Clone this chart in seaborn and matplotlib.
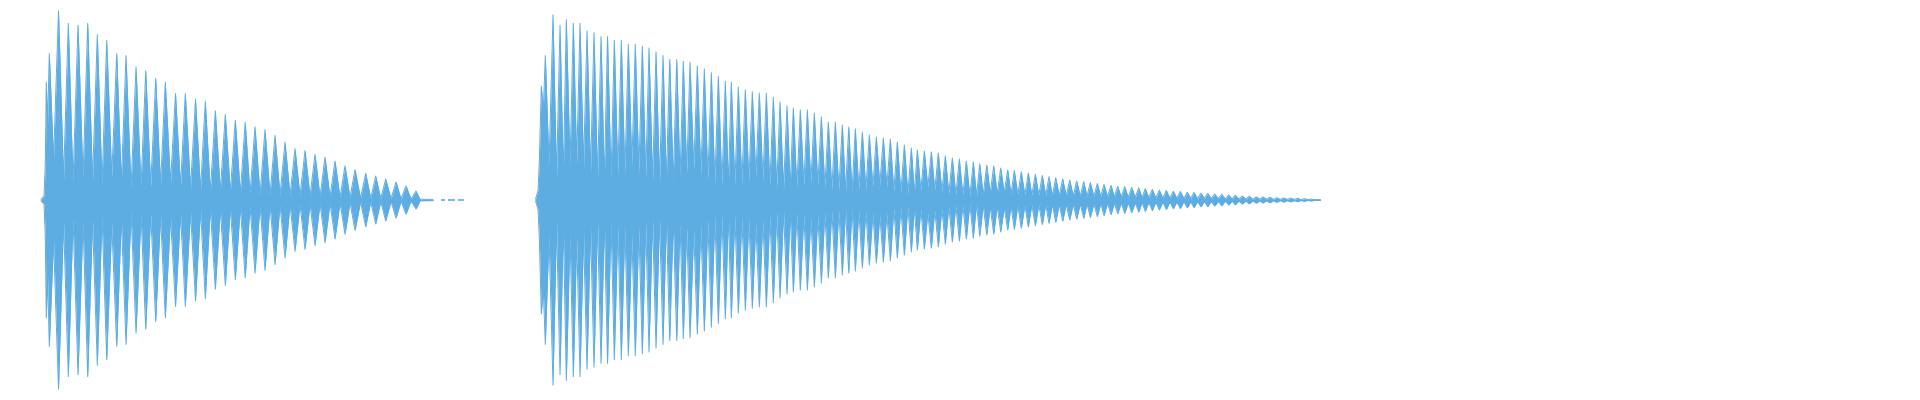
import numpy as np
import pandas as pd
import matplotlib
matplotlib.use("Agg")
import matplotlib.pyplot as plt
import seaborn as sns

WAVE_COLOR = "#5DADE2"

# burst 1: envelope vertices (time in ms, peak / trough amplitude)
b1_t = [
    41.0, 44.0, 45.3, 46.3, 47.5, 49.3, 53.5, 58.5, 63.5, 68.3,
    73.0, 78.0, 83.0, 87.7, 92.5, 97.3, 102.0, 106.7, 111.7, 116.7,
    121.3, 126.0, 131.0, 136.0, 141.0, 145.7, 150.7, 155.7, 160.5, 165.3,
    170.5, 175.5, 180.5, 185.3, 190.5, 195.5, 200.5, 205.3, 210.3, 215.3,
    220.3, 225.3, 230.3, 235.3, 240.3, 245.2, 250.0, 255.0, 260.0, 265.0,
    270.0, 275.0, 280.0, 285.0, 290.0, 295.0, 300.0, 305.0, 310.0, 315.0,
    320.0, 325.0, 330.0, 335.0, 340.0, 345.0, 350.0, 355.0, 360.5, 365.7,
    370.7, 375.7, 380.7, 385.7, 391.0, 396.0, 401.0, 406.0, 411.0, 416.0,
    420.0, 433.0,
]
b1_amp = [
    0.004, 0.02, 0.19, 0.62, 0.39, 0.77, 0.21, 0.995, 0.105, 0.93,
    0.09, 0.92, 0.11, 0.93, 0.10, 0.87, 0.08, 0.84, 0.12, 0.77,
    0.09, 0.76, 0.06, 0.70, 0.07, 0.68, 0.07, 0.64, 0.08, 0.62,
    0.09, 0.56, 0.07, 0.56, 0.06, 0.53, 0.05, 0.52, 0.04, 0.47,
    0.045, 0.45, 0.04, 0.42, 0.035, 0.41, 0.032, 0.385, 0.028, 0.37,
    0.026, 0.34, 0.026, 0.305, 0.024, 0.27, 0.022, 0.26, 0.02, 0.24,
    0.018, 0.225, 0.016, 0.205, 0.014, 0.18, 0.012, 0.16, 0.01, 0.14,
    0.009, 0.126, 0.008, 0.11, 0.007, 0.095, 0.006, 0.074, 0.005, 0.047,
    0.004, 0.003,
]
b1_dash_start = [441.0, 448.0, 458.0]
b1_dash_end = [445.0, 455.0, 464.0]

# burst 2
b2_t = [
    535.5, 538.0, 539.3, 541.3, 543.3, 545.3, 549.0, 553.0, 556.5, 560.0,
    563.3, 566.3, 570.0, 573.3, 576.7, 580.0, 583.5, 587.0, 590.5, 594.0,
    597.5, 601.0, 604.3, 607.5, 611.0, 614.3, 617.8, 621.3, 624.8, 628.3,
    631.8, 635.3, 638.8, 642.3, 645.7, 649.0, 652.5, 656.0, 659.5, 663.0,
    666.3, 669.7, 673.2, 676.7, 680.0, 683.3, 686.7, 690.0, 693.7, 697.3,
    700.8, 704.3, 707.8, 711.3, 714.8, 718.3, 721.8, 725.3, 728.3, 731.3,
    734.8, 738.3, 741.8, 745.3, 748.8, 752.3, 755.8, 759.3, 762.8, 766.3,
    769.8, 773.3, 776.7, 780.0, 783.5, 787.0, 790.2, 793.3, 796.8, 800.3,
    803.8, 807.3, 810.8, 814.3, 817.8, 821.3, 824.8, 828.3, 831.8, 835.3,
    838.8, 842.3, 845.5, 848.7, 852.0, 855.3, 858.8, 862.3, 865.8, 869.3,
    872.8, 876.3, 879.8, 883.3, 886.8, 890.3, 893.8, 897.3, 900.8, 904.3,
    907.8, 911.3, 914.3, 917.3, 920.8, 924.3, 927.8, 931.3, 934.8, 938.3,
    941.8, 945.3, 948.8, 952.3, 955.8, 959.3, 962.8, 966.3, 969.8, 973.3,
    976.5, 979.7, 983.2, 986.7, 990.2, 993.7, 997.2, 1000.7, 1004.2, 1007.7,
    1011.0, 1014.3, 1017.8, 1021.3, 1024.8, 1028.3, 1031.8, 1035.3, 1038.8, 1042.3,
    1045.7, 1049.0, 1052.3, 1055.7, 1059.2, 1062.7, 1066.2, 1069.7, 1073.2, 1076.7,
    1080.2, 1083.7, 1087.0, 1090.3, 1093.8, 1097.3, 1100.7, 1104.0, 1107.5, 1111.0,
    1114.3, 1117.7, 1121.2, 1124.7, 1128.2, 1131.7, 1135.2, 1138.7, 1142.0, 1145.3,
    1148.8, 1152.3, 1155.8, 1159.3, 1162.8, 1166.3, 1169.8, 1173.3, 1176.8, 1180.3,
    1183.8, 1187.3, 1190.7, 1194.0, 1197.5, 1201.0, 1204.3, 1207.7, 1211.2, 1214.7,
    1218.2, 1221.7, 1225.2, 1228.7, 1232.0, 1235.3, 1238.8, 1242.3, 1245.8, 1249.3,
    1252.8, 1256.3, 1259.7, 1263.0, 1266.5, 1270.0, 1273.3, 1276.7, 1280.2, 1283.7,
    1287.2, 1290.7, 1294.2, 1297.7, 1301.0, 1304.3, 1307.8, 1311.3, 1314.0, 1320.5,
]
b2_amp = [
    0.004, 0.05, 0.20, 0.60, 0.47, 0.76, 0.18, 0.975, 0.11, 0.92,
    0.125, 0.95, 0.18, 0.93, 0.19, 0.93, 0.17, 0.89, 0.14, 0.88,
    0.105, 0.86, 0.10, 0.86, 0.11, 0.84, 0.13, 0.84, 0.137, 0.82,
    0.18, 0.82, 0.14, 0.81, 0.115, 0.80, 0.095, 0.78, 0.09, 0.76,
    0.09, 0.74, 0.095, 0.74, 0.115, 0.73, 0.14, 0.725, 0.158, 0.705,
    0.13, 0.69, 0.105, 0.67, 0.084, 0.65, 0.075, 0.625, 0.075, 0.62,
    0.079, 0.595, 0.084, 0.58, 0.095, 0.57, 0.12, 0.563, 0.10, 0.563,
    0.075, 0.54, 0.065, 0.516, 0.058, 0.495, 0.063, 0.484, 0.065, 0.474,
    0.075, 0.474, 0.091, 0.458, 0.079, 0.437, 0.063, 0.41, 0.053, 0.41,
    0.049, 0.395, 0.044, 0.384, 0.044, 0.374, 0.053, 0.358, 0.053, 0.342,
    0.068, 0.332, 0.079, 0.326, 0.068, 0.32, 0.044, 0.305, 0.037, 0.29,
    0.032, 0.274, 0.037, 0.263, 0.047, 0.258, 0.068, 0.253, 0.053, 0.247,
    0.044, 0.232, 0.032, 0.221, 0.026, 0.216, 0.026, 0.205, 0.021, 0.20,
    0.021, 0.19, 0.026, 0.184, 0.035, 0.179, 0.032, 0.168, 0.04, 0.158,
    0.03, 0.155, 0.028, 0.148, 0.027, 0.142, 0.026, 0.135, 0.025, 0.129,
    0.024, 0.123, 0.024, 0.117, 0.023, 0.111, 0.022, 0.105, 0.022, 0.10,
    0.021, 0.096, 0.02, 0.092, 0.02, 0.087, 0.019, 0.082, 0.018, 0.077,
    0.017, 0.072, 0.016, 0.07, 0.015, 0.066, 0.014, 0.064, 0.013, 0.06,
    0.012, 0.056, 0.011, 0.052, 0.011, 0.05, 0.01, 0.046, 0.01, 0.045,
    0.009, 0.041, 0.009, 0.04, 0.008, 0.036, 0.008, 0.035, 0.007, 0.031,
    0.007, 0.03, 0.006, 0.026, 0.006, 0.025, 0.005, 0.021, 0.005, 0.02,
    0.004, 0.017, 0.004, 0.016, 0.004, 0.015, 0.003, 0.012, 0.003, 0.011,
    0.003, 0.01, 0.003, 0.009, 0.002, 0.007, 0.002, 0.005, 0.002, 0.002,
]


def draw_burst(ax, t, amp):
    df = pd.DataFrame({"t": t, "upper": amp})
    df["lower"] = -df["upper"]
    ax.fill_between(df["t"], df["lower"], df["upper"], color=WAVE_COLOR, linewidth=0)
    # thin outline keeps the spike tips crisp
    for col in ["upper", "lower"]:
        sns.lineplot(data=df, x="t", y=col, ax=ax, color=WAVE_COLOR,
                     linewidth=0.7, estimator=None, sort=False, legend=False)


sns.set_theme(style="white")
fig = plt.figure(figsize=(19.2, 4), dpi=100)
ax = fig.add_axes([0, 0, 1, 1])

draw_burst(ax, b1_t, b1_amp)
draw_burst(ax, b2_t, b2_amp)
ax.hlines([0] * len(b1_dash_start), b1_dash_start, b1_dash_end,
          color=WAVE_COLOR, linewidth=1.2)

ax.set_xlim(0, 1920)
ax.set_ylim(-1.0526, 1.0526)
ax.axis("off")

fig.savefig("out.png", dpi=100, facecolor="white")
